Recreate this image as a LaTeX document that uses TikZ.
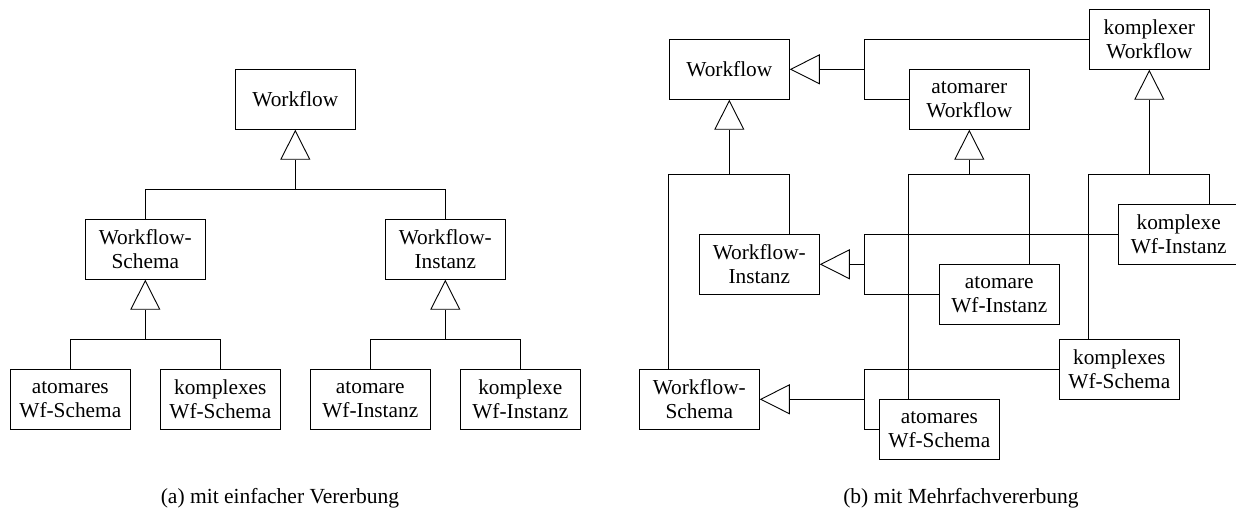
\documentclass[tikz,border=0pt]{standalone}
\usepackage{fontspec}
\setmainfont{Liberation Serif}
\usetikzlibrary{arrows.meta}
\begin{document}
\begin{tikzpicture}[x={(1bp,0)}, y={(0,-1bp)}, line width=0.9bp,
  cls/.style={draw, minimum width=120bp, minimum height=60bp,
    inner sep=0pt, align=center, font=\fontsize{21.4}{24}\selectfont},
  inh/.style={-{Triangle[open, length=30bp, width=30bp]}, line join=miter},
  caption/.style={anchor=base, font=\fontsize{21.6}{24}\selectfont}]
\useasboundingbox (0,0) rectangle (1236,511);
\clip (0,0) rectangle (1236,511);

% ---------- (a) single inheritance ----------
\node[cls] (wfA)    at (295.3,99.3)  {Workflow};
\node[cls] (schA)   at (145.3,249.3) {Workflow-\\Schema};
\node[cls] (instA)  at (445.3,249.3) {Workflow-\\Instanz};
\node[cls] (aSchA)  at (70.3,399.3)  {atomares\\Wf-Schema};
\node[cls] (kSchA)  at (220.3,399.3) {komplexes\\Wf-Schema};
\node[cls] (aInstA) at (370.3,399.3) {atomare\\Wf-Instanz};
\node[cls] (kInstA) at (520.3,399.3) {komplexe\\Wf-Instanz};

\coordinate (jA1) at (295.3,189.3);
\coordinate (jA2) at (145.3,339.3);
\coordinate (jA3) at (445.3,339.3);

\draw (schA.north) |- (jA1) -| (instA.north);
\draw[inh] (jA1) -- (wfA.south);
\draw (aSchA.north) |- (jA2) -| (kSchA.north);
\draw[inh] (jA2) -- (schA.south);
\draw (aInstA.north) |- (jA3) -| (kInstA.north);
\draw[inh] (jA3) -- (instA.south);

\node[caption] (capA) at (280,503.5) {(a) mit einfacher Vererbung};

% ---------- (b) multiple inheritance ----------
\node[cls] (wfB)    at (729.3,69.3)   {Workflow};
\node[cls] (atWf)   at (969.3,99.3)   {atomarer\\Workflow};
\node[cls] (kWf)    at (1149.3,39.3)  {komplexer\\Workflow};
\node[cls] (instB)  at (759.3,264.3)  {Workflow-\\Instanz};
\node[cls] (aInstB) at (999.3,294.3)  {atomare\\Wf-Instanz};
\node[cls] (kInstB) at (1178.7,234.3) {komplexe\\Wf-Instanz};
\node[cls] (schB)   at (699.3,399.3)  {Workflow-\\Schema};
\node[cls] (kSchB)  at (1119.3,369.3) {komplexes\\Wf-Schema};
\node[cls] (aSchB)  at (939.3,429.3)  {atomares\\Wf-Schema};

\coordinate (jB1) at (864.3,69.3);
\coordinate (jB2) at (729.3,174.3);
\coordinate (jB3) at (969.3,174.3);
\coordinate (jB4) at (1149.3,174.3);
\coordinate (jB5) at (864.3,264.3);
\coordinate (jB6) at (864.3,399.3);

% Workflow <- atomarer / komplexer Workflow
\draw (kWf.west) -| (jB1) |- (atWf.west);
\draw[inh] (jB1) -- (wfB.east);
% Workflow <- Workflow-Schema / Workflow-Instanz
\draw (schB.north -| wfB.west) |- (jB2) -| (instB.north -| wfB.east);
\draw[inh] (jB2) -- (wfB.south);
% atomarer Workflow <- atomares Wf-Schema / atomare Wf-Instanz
\draw (aSchB.north -| atWf.west) |- (jB3) -| (aInstB.north -| atWf.east);
\draw[inh] (jB3) -- (atWf.south);
% komplexer Workflow <- komplexes Wf-Schema / komplexe Wf-Instanz
\draw (kSchB.north -| kWf.west) |- (jB4) -| (kInstB.north -| kWf.east);
\draw[inh] (jB4) -- (kWf.south);
% Workflow-Instanz <- komplexe / atomare Wf-Instanz
\draw (kInstB.west) -| (jB5) |- (aInstB.west);
\draw[inh] (jB5) -- (instB.east);
% Workflow-Schema <- komplexes / atomares Wf-Schema
\draw (kSchB.west) -| (jB6) |- (aSchB.west);
\draw[inh] (jB6) -- (schB.east);

\node[caption] (capB) at (961,503.5) {(b) mit Mehrfachvererbung};
\end{tikzpicture}
\end{document}
